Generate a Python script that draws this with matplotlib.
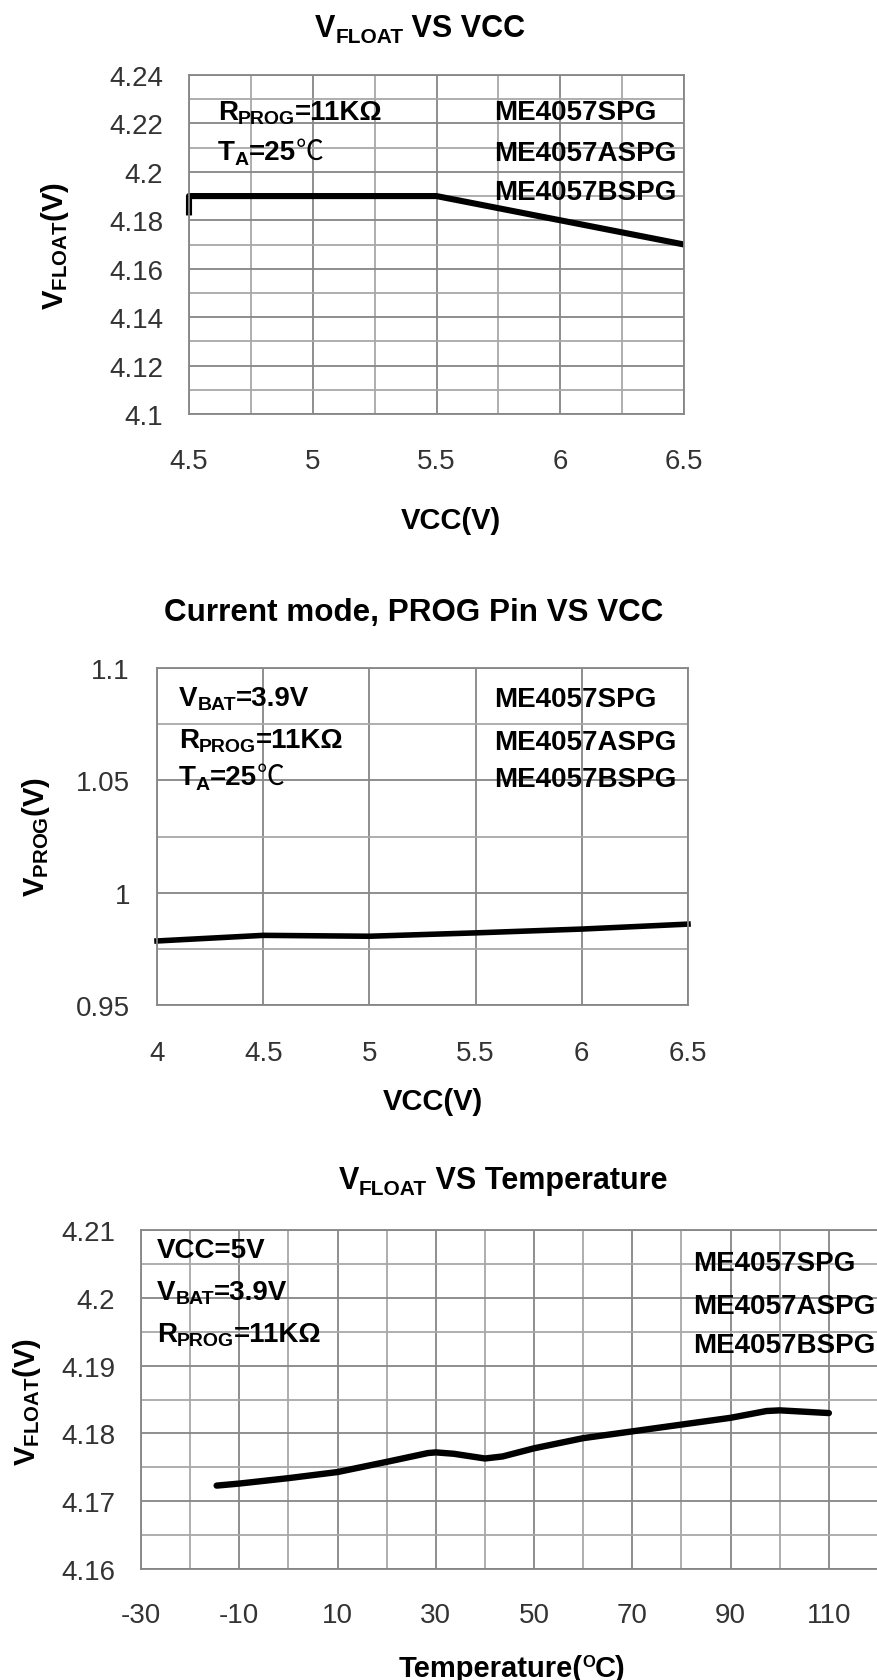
import matplotlib
matplotlib.use('Agg')
import matplotlib.pyplot as plt
import numpy as np

# ---------------- data ----------------
vcc1 = [4.5, 4.5, 5.5, 6.0, 6.5]
vfloat1 = [4.182, 4.19, 4.19, 4.18, 4.17]

vcc2 = [4.0, 4.5, 5.0, 5.5, 6.0, 6.5]
vprog2 = [0.9785, 0.9810, 0.9806, 0.9821, 0.9838, 0.9860]

temp3 = [-14.6, -10, 0, 10, 20, 28.4, 30, 33.6, 40, 43.6, 50, 60, 70, 80, 90, 97.3, 100, 110]
vfloat3 = [4.1723, 4.1726, 4.1734, 4.1743, 4.1758, 4.1771, 4.1772, 4.1770, 4.1763, 4.1766,
           4.1778, 4.1793, 4.1803, 4.1813, 4.1823, 4.1833, 4.1834, 4.1830]

x1_ticks = [4.5, 5, 5.5, 6, 6.5]
x1_labels = ['4.5', '5', '5.5', '6', '6.5']
y1_ticks = [4.10, 4.12, 4.14, 4.16, 4.18, 4.20, 4.22, 4.24]
y1_labels = ['4.1', '4.12', '4.14', '4.16', '4.18', '4.2', '4.22', '4.24']

x2_ticks = [4, 4.5, 5, 5.5, 6, 6.5]
x2_labels = ['4', '4.5', '5', '5.5', '6', '6.5']
y2_ticks = [0.95, 1.0, 1.05, 1.1]
y2_labels = ['0.95', '1', '1.05', '1.1']

x3_ticks = [-30, -10, 10, 30, 50, 70, 90, 110]
x3_labels = ['-30', '-10', '10', '30', '50', '70', '90', '110']
y3_ticks = [4.16, 4.17, 4.18, 4.19, 4.20, 4.21]
y3_labels = ['4.16', '4.17', '4.18', '4.19', '4.2', '4.21']

parts = ['ME4057SPG', 'ME4057ASPG', 'ME4057BSPG']

# ---------------- style ----------------
plt.rcParams['font.family'] = ['Liberation Sans', 'DejaVu Sans']
plt.rcParams['mathtext.fontset'] = 'custom'
plt.rcParams['mathtext.rm'] = 'Liberation Sans'
plt.rcParams['mathtext.bf'] = 'Liberation Sans:bold'

W, H = 878, 1681
fig = plt.figure(figsize=(W / 100, H / 100), dpi=100)
renderer = fig.canvas.get_renderer()

TICK_FS = 20
ANN_FS = 20
SUB_FS = 14
LAB_FS = 21
TITLE_FS = 22
TICK_COLOR = '#333333'
GRID_MAJ = '#868686'
GRID_MIN = '#a8a8a8'


def add_axes(left, right, top, bottom):
    return fig.add_axes([left / W, 1 - bottom / H, (right - left) / W, (bottom - top) / H])


def setup(ax, xlim, ylim, xmaj, xlab, xmin_step, ymaj, ylab, ymin_step, xpad, ypad):
    ax.set_xlim(*xlim)
    ax.set_ylim(*ylim)
    ax.set_xticks(xmaj)
    ax.set_xticklabels(xlab)
    ax.set_yticks(ymaj)
    ax.set_yticklabels(ylab)
    ax.set_xticks(np.arange(xlim[0], xlim[1] + 1e-9, xmin_step), minor=True)
    ax.set_yticks(np.arange(ylim[0], ylim[1] + 1e-9, ymin_step), minor=True)
    ax.tick_params(which='both', length=0)
    ax.tick_params(axis='x', pad=xpad, labelsize=TICK_FS, labelcolor=TICK_COLOR)
    ax.tick_params(axis='y', pad=ypad, labelsize=TICK_FS, labelcolor=TICK_COLOR)
    ax.grid(True, which='minor', color=GRID_MIN, lw=1.3)
    ax.grid(True, which='major', color=GRID_MAJ, lw=1.3)
    ax.set_axisbelow(True)
    for s in ax.spines.values():
        s.set_color(GRID_MAJ)
        s.set_linewidth(1.3)


def rich(x, y, pieces, ha='left', color='black'):
    """pieces: (text, size, dy_px, weight, family). x,y in px from top-left; y = baseline."""
    texts = []
    widths = []
    for s, size, dy, weight, fam in pieces:
        t = fig.text(0, 0, s, fontsize=size, fontweight=weight, family=fam,
                     va='baseline', ha='left', color=color)
        widths.append(t.get_window_extent(renderer).width)
        texts.append((t, dy))
    total = sum(widths)
    cx = x - (total / 2 if ha == 'center' else 0)
    for (t, dy), w in zip(texts, widths):
        t.set_position((cx / W, 1 - (y + dy) / H))
        cx += w


LS = ['Liberation Sans', 'DejaVu Sans']
CJK = ['Noto Sans CJK SC', 'DejaVu Sans']

# ---------------- chart 1 ----------------
ax1 = add_axes(189, 684, 76, 415)
setup(ax1, (4.5, 6.5), (4.10, 4.24), x1_ticks, x1_labels, 0.25,
      y1_ticks, y1_labels, 0.01, 24.5, 18.5)
ax1.plot(vcc1, vfloat1, color='black', lw=4.4, solid_joinstyle='round', solid_capstyle='butt', clip_on=False)

rich(315, 37, [('V', TITLE_FS, 0, 'bold', LS), ('FLOAT', 15, 6, 'bold', LS),
               (' VS VCC', TITLE_FS, 0, 'bold', LS)])
rich(218, 120, [('R', ANN_FS, 0, 'bold', LS), ('PROG', SUB_FS, 4, 'bold', LS),
                ('=11KΩ', ANN_FS, 0, 'bold', LS)])
rich(218, 160, [('T', ANN_FS, 0, 'bold', LS), ('A', SUB_FS, 5, 'bold', LS),
                ('=25', ANN_FS, 0, 'bold', LS), ('℃', ANN_FS, 0, 'normal', CJK)])
for i, p in enumerate(parts):
    rich(494, [120, 161, 200][i], [(p, ANN_FS, 0, 'bold', LS)])
rich(451, 529, [('VCC(V)', LAB_FS, 0, 'bold', LS)], ha='center')
fig.text(55 / W, 1 - 246 / H, r'$\mathbf{V}_{\mathbf{FLOAT}}$(V)', rotation=90,
         fontsize=LAB_FS, fontweight='bold', ha='center', va='center')

# ---------------- chart 2 ----------------
ax2 = add_axes(157, 688, 669, 1006)
setup(ax2, (4.0, 6.5), (0.95, 1.10), x2_ticks, x2_labels, 0.5,
      y2_ticks, y2_labels, 0.025, 25.5, 19.5)
ax2.plot(vcc2, vprog2, color='black', lw=4.0, solid_joinstyle='round', clip_on=False)

rich(414, 621, [('Current mode, PROG Pin VS VCC', 22.6, 0, 'bold', LS)], ha='center')
rich(179, 706, [('V', ANN_FS, 0, 'bold', LS), ('BAT', SUB_FS, 4, 'bold', LS),
                ('=3.9V', ANN_FS, 0, 'bold', LS)])
rich(179, 748, [('R', ANN_FS, 0, 'bold', LS), ('PROG', SUB_FS, 4, 'bold', LS),
                ('=11KΩ', ANN_FS, 0, 'bold', LS)])
rich(179, 785, [('T', ANN_FS, 0, 'bold', LS), ('A', SUB_FS, 5, 'bold', LS),
                ('=25', ANN_FS, 0, 'bold', LS), ('℃', ANN_FS, 0, 'normal', CJK)])
for i, p in enumerate(parts):
    rich(494, [707, 750, 787][i], [(p, ANN_FS, 0, 'bold', LS)])
rich(433, 1110, [('VCC(V)', LAB_FS, 0, 'bold', LS)], ha='center')
fig.text(36 / W, 1 - 837 / H, r'$\mathbf{V}_{\mathbf{PROG}}$(V)', rotation=90,
         fontsize=LAB_FS, fontweight='bold', ha='center', va='center')

# ---------------- chart 3 ----------------
ax3 = add_axes(141, 878, 1231, 1570)
setup(ax3, (-30, 120), (4.16, 4.21), x3_ticks, x3_labels, 10,
      y3_ticks, y3_labels, 0.005, 24, 18.5)
ax3.plot(temp3, vfloat3, color='black', lw=4.6, solid_joinstyle='round', solid_capstyle='round')

rich(503, 1189, [('V', TITLE_FS, 0, 'bold', LS), ('FLOAT', 15, 6, 'bold', LS),
                 (' VS Temperature', TITLE_FS, 0, 'bold', LS)], ha='center')
rich(157, 1258, [('VCC=5V', ANN_FS, 0, 'bold', LS)])
rich(157, 1300, [('V', ANN_FS, 0, 'bold', LS), ('BAT', SUB_FS, 4, 'bold', LS),
                 ('=3.9V', ANN_FS, 0, 'bold', LS)])
rich(157, 1342, [('R', ANN_FS, 0, 'bold', LS), ('PROG', SUB_FS, 4, 'bold', LS),
                 ('=11KΩ', ANN_FS, 0, 'bold', LS)])
for i, p in enumerate(parts):
    rich(693, [1271, 1314, 1353][i], [(p, ANN_FS, 0, 'bold', LS)])
rich(512, 1677, [('Temperature(', LAB_FS, 0, 'bold', LS), ('O', 12, -10, 'bold', LS),
                 ('C)', LAB_FS, 0, 'bold', LS)], ha='center')
fig.text(27 / W, 1 - 1402 / H, r'$\mathbf{V}_{\mathbf{FLOAT}}$(V)', rotation=90,
         fontsize=LAB_FS, fontweight='bold', ha='center', va='center')

fig.savefig('out.png', dpi=100, facecolor='white')
